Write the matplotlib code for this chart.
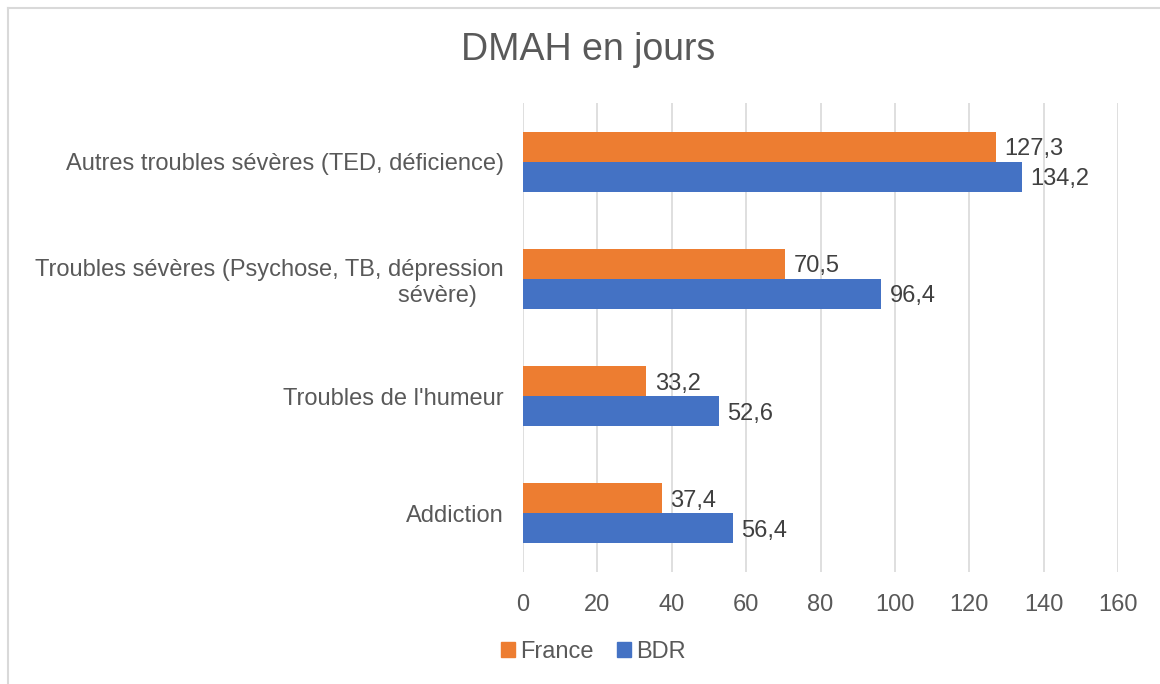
import numpy as np
import matplotlib.pyplot as plt
from matplotlib.lines import Line2D
from matplotlib.patches import Patch

plt.rcParams['font.family'] = ['Liberation Sans', 'DejaVu Sans']

# Data (bottom to top)
categories = ["Addiction",
              "Troubles de l'humeur",
              "Troubles sévères (Psychose, TB, dépression\nsévère)    ",
              "Autres troubles sévères (TED, déficience)"]
france = [37.4, 33.2, 70.5, 127.3]
bdr = [56.4, 52.6, 96.4, 134.2]

c_france = '#ED7D31'
c_bdr = '#4472C4'
txt = '#595959'

fig = plt.figure(figsize=(11.6, 6.84), dpi=100)
ax = fig.add_axes([523/1160, 1-572/684, 595/1160, 469/684])

y = np.arange(len(categories))
h = 0.256
bf = ax.barh(y + h/2, france, height=h, color=c_france, zorder=3)
bb = ax.barh(y - h/2, bdr, height=h, color=c_bdr, zorder=3)

for bars, vals in ((bf, france), (bb, bdr)):
    for b, v in zip(bars, vals):
        ax.text(v + 2.2, b.get_y() + b.get_height()/2, f"{v:.1f}".replace('.', ','),
                va='center_baseline', ha='left', fontsize=17, color='#404040')

ax.set_xlim(0, 160)
ax.set_ylim(-0.5, 3.5)
ax.set_xticks(np.arange(0, 161, 20))
ax.set_yticks(y)
ax.set_yticklabels(categories, fontsize=17, color=txt)
ax.tick_params(axis='x', length=0, pad=16, labelsize=17, labelcolor=txt)
ax.tick_params(axis='y', length=0, pad=14)
ax.grid(axis='x', color='#D9D9D9', lw=1.2, zorder=0)
for s in ax.spines.values():
    s.set_visible(False)

fig.text(0.507, 1-50/684, "DMAH en jours", ha='center', va='center',
         fontsize=27, color=txt)

handles = [Patch(color=c_france), Patch(color=c_bdr)]
fig.legend(handles, ['France', 'BDR'], loc='center', bbox_to_anchor=(593/1160, 1-652/684),
           ncol=2, frameon=False, fontsize=17, labelcolor=txt,
           handlelength=0.6, handleheight=0.6, handletextpad=0.2, columnspacing=1.0)

# outer frame (top and left edges only visible)
fig.add_artist(Line2D([8/1160, 1], [1-8/684, 1-8/684], color='#D9D9D9', lw=1.5))
fig.add_artist(Line2D([8/1160, 8/1160], [0, 1-8/684], color='#D9D9D9', lw=1.5))

fig.savefig('out.png', dpi=100)
